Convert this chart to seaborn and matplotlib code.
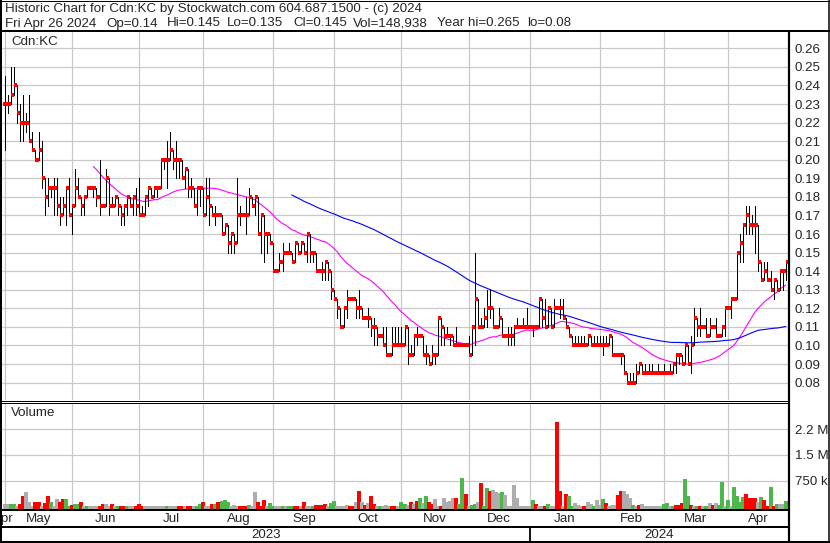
import numpy as np
import pandas as pd
import matplotlib
matplotlib.use("Agg")
import matplotlib.pyplot as plt
import seaborn as sns
from matplotlib.lines import Line2D
from matplotlib.ticker import FixedLocator, FixedFormatter, FormatStrFormatter

sns.set_style("white")
plt.rcParams['font.family'] = ['Liberation Sans', 'DejaVu Sans']

# ---------------- data ----------------
start_date = "2023-05-01"
end_date = "2024-04-26"
no_trade_days = ["2023-05-22", "2023-09-04", "2023-12-25"]

opens = [.23, .23, .23, .235, .24, .225, .22, .22, .22, .21, .205, .20, .205, .19, .18, .185, .185, .185, .175, .17,
         .175, .185, .17, .175, .185, .18, .175, .18, .185, .185, .185, .18, .175, .175, .19, .175, .175, .18, .175, .17,
         .175, .18, .175,
         .18, .175, .17, .17, .18, .185, .18, .185, .185, .20, .20, .20, .205, .20, .20, .20, .19, .195, .185, .185,
         .175, .185, .185, .17, .18, .175, .17, .17, .17, .16, .165, .155, .16, .155, .17, .17, .17, .17, .18, .175,
         .18, .16, .17,
         .16, .16, .155, .14, .14, .145, .15, .15, .15, .145, .155, .15, .155, .15, .16, .15, .15, .14, .14, .14, .145,
         .14, .13, .125, .12, .11, .12, .125, .125, .125, .12, .12, .115, .115, .115, .11, .11, .105, .105, .10, .095,
         .095,
         .10, .10, .10, .10, .11, .095, .095, .105, .105, .105, .095, .095, .09, .095, .095, .115, .11, .105, .105,
         .105, .10, .10, .10, .10, .10, .095, .11, .125, .11, .11, .115, .12, .12, .11, .11, .115, .105, .105, .105,
         .105, .11, .11, .11,
         .11, .11, .11, .11, .11, .125, .115, .11, .12, .11, .12, .12, .12, .115, .11, .105, .10, .10, .10, .10, .10,
         .105, .10, .10, .10, .10, .10, .10, .105, .095, .095, .095, .095, .085, .08, .08, .08, .085, .09, .085, .085,
         .085, .085, .085,
         .085, .085, .085, .085, .085, .09, .095, .095, .09, .10, .09, .10, .115, .11, .11, .11, .105, .11, .11, .105,
         .105, .11, .12, .12, .125, .125, .15, .155, .165, .17, .165, .165, .165, .145, .135, .14, .135, .13, .135,
         .13, .14, .14]

highs = [.245, .235, .25, .25, .235, .23, .235, .225, .235, .215, .205, .215, .21, .19, .19, .185, .19, .19, .18, .18,
         .185, .19, .175, .195, .19, .18, .18, .185, .185, .185, .18, .20, .175, .195, .19, .18, .18, .18, .175, .175,
         .18, .18, .18,
         .185, .19, .175, .18, .185, .185, .185, .185, .20, .20, .21, .215, .205, .21, .20, .20, .195, .19, .19, .185,
         .185, .185, .175, .19, .19, .175, .175, .17, .165, .165, .16, .16, .16, .19, .175, .17, .18, .185, .18, .18,
         .17, .17, .17,
         .16, .16, .155, .14, .15, .155, .15, .155, .15, .155, .155, .155, .155, .16, .155, .15, .145, .14, .145, .145,
         .14, .13, .13, .12, .12, .12, .13, .125, .125, .125, .13, .12, .115, .12, .115, .115, .11, .105, .11, .11,
         .095, .11,
         .11, .11, .11, .11, .105, .10, .105, .11, .105, .105, .10, .095, .10, .095, .115, .115, .11, .11, .105, .10,
         .11, .10, .10, .10, .105, .11, .15, .115, .115, .12, .13, .13, .12, .11, .12, .11, .105, .11, .11, .11, .115,
         .11, .115,
         .12, .11, .11, .11, .125, .12, .125, .12, .12, .125, .12, .125, .125, .115, .11, .105, .105, .105, .105, .105,
         .105, .105, .105, .105, .105, .105, .105, .105, .10, .095, .095, .095, .095, .085, .085, .085, .09, .09, .09,
         .09, .09, .09, .085, .09,
         .085, .09, .085, .09, .09, .095, .095, .09, .10, .095, .105, .12, .115, .12, .11, .115, .115, .11, .115, .105,
         .11, .12, .12, .125, .125, .15, .16, .165, .175, .175, .17, .175, .165, .145, .145, .145, .14, .135, .135,
         .14, .14, .145]

lows = [.205, .225, .23, .235, .22, .21, .21, .215, .21, .205, .20, .20, .185, .17, .175, .18, .17, .17, .165, .17,
        .165, .17, .16, .175, .18, .17, .17, .18, .185, .18, .175, .17, .175, .175, .17, .175, .175, .17, .165, .165,
        .17, .175, .17,
        .17, .17, .17, .17, .175, .18, .18, .18, .185, .195, .185, .20, .195, .19, .19, .19, .185, .18, .18, .175,
        .17, .175, .17, .175, .165, .17, .165, .17, .16, .16, .15, .15, .15, .16, .165, .17, .16, .17, .175, .17, .16,
        .15, .145,
        .15, .155, .14, .14, .145, .14, .15, .15, .145, .15, .15, .15, .15, .145, .145, .145, .14, .14, .135, .135,
        .135, .125, .125, .115, .11, .115, .115, .125, .125, .115, .115, .115, .115, .11, .105, .10, .10, .105, .10,
        .095, .095, .10,
        .10, .10, .10, .10, .09, .095, .10, .10, .105, .095, .09, .09, .09, .09, .10, .10, .10, .105, .10, .10, .10,
        .10, .10, .10, .095, .10, .10, .11, .11, .11, .11, .115, .11, .11, .11, .105, .105, .10, .10, .10, .11, .11,
        .11,
        .11, .11, .105, .11, .11, .11, .11, .11, .11, .12, .12, .115, .115, .11, .105, .10, .10, .10, .10, .10, .105,
        .10, .10, .10, .10, .095, .10, .105, .095, .095, .095, .09, .085, .08, .08, .08, .08, .085, .085, .085, .085,
        .085, .085, .085,
        .085, .085, .085, .085, .09, .085, .09, .09, .09, .09, .085, .105, .105, .105, .11, .105, .105, .11, .105,
        .105, .105, .105, .12, .115, .125, .125, .145, .145, .16, .16, .16, .15, .14, .135, .135, .135, .13, .125,
        .13, .13, .13, .135]

closes = [.23, .23, .235, .24, .225, .22, .22, .22, .21, .205, .20, .205, .19, .18, .185, .185, .185, .175, .17, .175,
          .185, .17, .175, .185, .18, .175, .18, .185, .185, .185, .18, .175, .175, .19, .175, .175, .18, .175, .17,
          .175, .18, .175, .18,
          .175, .17, .17, .18, .185, .18, .185, .185, .20, .20, .20, .205, .20, .20, .20, .19, .195, .185, .185, .175,
          .185, .185, .17, .18, .175, .17, .17, .17, .16, .165, .155, .16, .155, .17, .17, .17, .17, .18, .175, .18,
          .16, .17, .16,
          .16, .155, .14, .14, .145, .15, .15, .15, .145, .155, .15, .155, .15, .16, .15, .15, .14, .14, .14, .145,
          .14, .13, .125, .12, .11, .12, .125, .125, .125, .12, .12, .115, .115, .115, .11, .11, .105, .105, .10,
          .095, .095, .10,
          .10, .10, .10, .11, .095, .095, .105, .105, .105, .095, .095, .09, .095, .095, .115, .11, .105, .105, .105,
          .10, .10, .10, .10, .10, .095, .11, .125, .11, .11, .115, .12, .12, .11, .11, .115, .105, .105, .105, .105,
          .11, .11, .11, .11,
          .11, .11, .11, .11, .125, .115, .11, .12, .11, .12, .12, .12, .115, .11, .105, .10, .10, .10, .10, .10,
          .105, .10, .10, .10, .10, .10, .10, .105, .095, .095, .095, .095, .085, .08, .08, .08, .085, .09, .085,
          .085, .085, .085, .085, .085,
          .085, .085, .085, .085, .09, .095, .095, .09, .10, .09, .10, .115, .11, .11, .11, .105, .11, .11, .105,
          .105, .11, .12, .12, .125, .125, .15, .155, .165, .17, .165, .165, .165, .145, .135, .14, .135, .13, .135,
          .13, .14, .14, .145]

volume_k = [60, 60, 60, 60, 5, 60, 290, 405, 115, 5, 115, 135, 20, 85, 290, 135, 5, 210, 115, 200, 200, 5, 30, 60, 75,
            135, 5, 5, 5, 20, 5, 5, 60, 75, 20, 60, 5, 5, 20, 20, 5, 5, 5, 5, 60, 5,
            5, 5, 5, 5, 5, 5, 5,
            20, 20, 20, 20, 5, 5, 5, 20, 5, 5, 20, 75, 135, 5, 5, 75, 60, 115, 155, 175, 115, 5, 40, 5, 5, 5, 5, 40,
            5, 405, 115, 20, 190, 5, 95, 5, 5, 5, 5, 5, 5, 5, 20, 5, 20, 135, 5, 5, 5, 40, 40, 40, 60, 5, 95, 155, 5,
            5, 20, 40, 5, 5, 115, 440, 115, 40, 95, 290, 60, 5, 20, 5, 40, 5, 5, 5, 5, 115, 75, 40,
            135, 60, 155, 230, 95, 290, 135, 75, 210, 5, 5, 250, 115, 155, 230, 230, 75, 825, 365, 5, 40, 60, 115, 690,
            20, 520, 460, 480, 405, 385, 405, 325, 5, 5, 615, 250, 20,
            5, 5,
            5, 175, 75, 5, 5, 5, 60, 5, 5, 2460, 460, 5, 345, 290, 20, 95, 40, 20, 5, 135, 75, 5, 175, 40, 210, 95, 5,
            40, 40, 325, 460, 440, 365, 230, 40, 5, 40, 75, 5, 5, 5, 5, 5, 5, 75, 95, 5, 5, 40, 40, 95, 785, 310, 40,
            5, 20, 5, 5, 5, 95, 40, 95, 40, 710, 5, 175, 5, 555, 310, 135, 270, 345, 230, 230, 230, 135, 270, 175, 5,
            575, 5, 75, 60, 60, 149]

# volume bar colour: r = down, g = up, n = unchanged
volume_dir = ("nnggnrrnnnrrnrrgnnrrggrggrngnnnrrnnrngrrgnnrrr"
              "nnnnnnn"
              "gnnnrrnrrnggrnnrgrgggnnnrrrgnnrrrnggnngnggrrnrnngrrrrnggnnnnrrnrnrnrrngnnnrrnggn"
              "rnrgngrrnnrnnnnrggrnggnrggrnnngnnnnnn"
              "nn"
              "ngrnnrgnnrrnrggnnnrnngnngrnnnrrnnngnrnnnnnnnggngrrrggrngrngnrnggngnggggrrrrngrrgrgnng")

price_ticks = [0.08, 0.09, 0.10, 0.11, 0.12, 0.13, 0.14, 0.15, 0.16, 0.17, 0.18, 0.19, 0.20, 0.21, 0.22, 0.23,
               0.24, 0.25, 0.26]
volume_ticks = [750000, 1500000, 2250000]
volume_tick_labels = ["750 k", "1.5 M", "2.2 M"]

ma_fast_window = 30
ma_slow_window = 95

# ---------------- frame ----------------
W, H = 830, 543
dates = pd.bdate_range(start_date, end_date).drop(pd.to_datetime(no_trade_days))
n = len(closes)
idx = np.arange(n)
df = pd.DataFrame({"i": idx, "date": dates[:n], "open": opens, "high": highs, "low": lows,
                   "close": closes, "vol": np.array(volume_k) * 1000.0, "dir": list(volume_dir)})
df["ma_fast"] = df["close"].rolling(ma_fast_window).mean()
df["ma_slow"] = df["close"].rolling(ma_slow_window).mean()

month_key = df["date"].dt.to_period("M")
month_start = df.index[month_key != month_key.shift()].to_numpy()
month_names = df["date"].iloc[month_start].dt.strftime("%b").tolist()
xl = (-0.98, n + 0.05)

fig = plt.figure(figsize=(W / 100, H / 100), dpi=100)


def rect(x0, y0, x1, y1):
    return [x0 / W, 1 - y1 / H, (x1 - x0) / W, (y1 - y0) / H]


GRID = "#C8C8C8"
FS = 9.6

ax_p = fig.add_axes(rect(2, 32, 789, 400))
ax_v = fig.add_axes(rect(2, 403, 789, 509))
ax_m = fig.add_axes(rect(2, 510, 789, 527))
ax_y = fig.add_axes(rect(2, 528, 789, 541))

for ax in (ax_p, ax_v, ax_m, ax_y):
    ax.set_xlim(*xl)
    for s in ax.spines.values():
        s.set_visible(False)
    ax.set_facecolor("white")

# price panel
ax_p.set_ylim(0.07063, 0.26878)
ax_p.xaxis.set_major_locator(FixedLocator(month_start))
ax_p.yaxis.set_major_locator(FixedLocator(price_ticks))
ax_p.yaxis.set_major_formatter(FormatStrFormatter("%.2f"))
ax_p.grid(True, color=GRID, lw=0.9)
ax_p.set_axisbelow(True)
ax_p.yaxis.tick_right()
ax_p.tick_params(axis="y", length=0, pad=4, labelsize=FS, labelright=True, labelleft=False)
ax_p.tick_params(axis="x", length=0, labelbottom=False)

sns.lineplot(data=df, x="i", y="ma_fast", ax=ax_p, color="#FF00FF", lw=0.8, estimator=None)
sns.lineplot(data=df, x="i", y="ma_slow", ax=ax_p, color="#0000FF", lw=0.8, estimator=None)

lo_all = np.minimum.reduce([df["low"], df["open"], df["close"]])
hi_all = np.maximum.reduce([df["high"], df["open"], df["close"]])
ax_p.vlines(df["i"], lo_all, hi_all, color="black", lw=0.6, antialiased=False, zorder=3)
ax_p.hlines(df["open"], df["i"] - 0.75, df["i"], color="#FF0000", lw=1.5, antialiased=False, zorder=4)
ax_p.hlines(df["close"], df["i"], df["i"] + 0.75, color="#FF0000", lw=1.5, antialiased=False, zorder=4)
ax_p.set_xlabel("")
ax_p.set_ylabel("")
ax_p.text(9 / 787, 1 - 10 / 368, "Cdn:KC", transform=ax_p.transAxes, fontsize=FS, va="center", ha="left")

# volume panel
cmap = {"r": "#FF0000", "g": "#4CB84C", "n": "#ADADAD"}
vbot = -78000
ax_v.set_ylim(vbot, 3.009e6)
ax_v.xaxis.set_major_locator(FixedLocator(month_start))
ax_v.yaxis.set_major_locator(FixedLocator(volume_ticks))
ax_v.yaxis.set_major_formatter(FixedFormatter(volume_tick_labels))
ax_v.grid(True, color=GRID, lw=0.9)
ax_v.set_axisbelow(True)
ax_v.yaxis.tick_right()
ax_v.tick_params(axis="y", length=0, pad=4, labelsize=FS, labelright=True, labelleft=False)
ax_v.tick_params(axis="x", length=0, labelbottom=False)
ax_v.vlines(df["i"], vbot, df["vol"], colors=[cmap[c] for c in df["dir"]], lw=1.55, antialiased=False, zorder=3)
ax_v.text(9 / 787, 1 - 10 / 106, "Volume", transform=ax_v.transAxes, fontsize=FS, va="center", ha="left")

# month row
ax_m.set_ylim(0, 1)
ax_m.set_xticks([])
ax_m.set_yticks([])
bounds = [xl[0]] + list(month_start) + [xl[1]]
labels = ["Apr"] + month_names
for k, lab in enumerate(labels):
    c = (bounds[k] + bounds[k + 1]) / 2
    ax_m.text(c, 0.45, lab, ha="center", va="center", fontsize=FS, clip_on=True)

# year row
ax_y.set_ylim(0, 1)
ax_y.set_xticks([])
ax_y.set_yticks([])
jan = month_start[month_names.index("Jan")]
ax_y.text((xl[0] + jan) / 2, 0.45, str(df["date"].iloc[0].year), ha="center", va="center", fontsize=FS)
ax_y.text((jan + xl[1]) / 2, 0.45, str(df["date"].iloc[-1].year), ha="center", va="center", fontsize=FS)
ax_y.axvline(jan, color="black", lw=1.3)

# overlay frame and header
ax_o = fig.add_axes([0, 0, 1, 1], zorder=10)
ax_o.set_xlim(0, W)
ax_o.set_ylim(H, 0)
ax_o.axis("off")
ax_o.patch.set_alpha(0)


def hl(y, x0, x1, px):
    ax_o.add_line(Line2D([x0, x1], [y, y], color="black", lw=px * 0.72, solid_capstyle="butt"))


def vl(x, y0, y1, px):
    ax_o.add_line(Line2D([x, x], [y0, y1], color="black", lw=px * 0.72, solid_capstyle="butt"))


hl(0.5, 0, W, 1)
hl(31, 0, W, 2)
vl(1, 0, H, 2)
vl(828.5, 0, H, 1.5)
vl(789, 31, H, 2.2)
hl(400.5, 0, 789, 1)
hl(402.5, 0, 789, 1)
hl(510, 0, 789, 2)
hl(527, 0, 789, 2)
hl(541.8, 0, W, 2)

ax_o.text(5, 9, "Historic Chart for Cdn:KC by Stockwatch.com 604.687.1500 - (c) 2024", fontsize=FS,
          va="center", ha="left")
fields = [(5, "Fri Apr 26 2024"), (106, "Op=0.14"), (167, "Hi=0.145"), (227, "Lo=0.135"), (293, "Cl=0.145"),
          (353, "Vol=148,938"), (436.5, "Year hi=0.265"), (527, "lo=0.08")]
for x, t in fields:
    ax_o.text(x, 23.5, t, fontsize=FS, va="center", ha="left")

fig.savefig("out.png", dpi=100)
